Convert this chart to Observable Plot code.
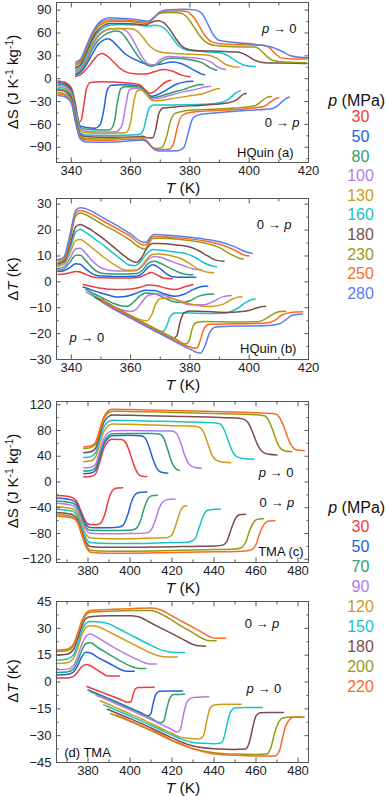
<!DOCTYPE html>
<html><head><meta charset="utf-8">
<script src="https://cdn.jsdelivr.net/npm/d3@7"></script>
<script src="https://cdn.jsdelivr.net/npm/@observablehq/plot@0.6"></script>
<style>
body{margin:0;background:#fff;font-family:"Liberation Sans",Arial,sans-serif;}
#root{position:relative;width:387px;height:796px;overflow:hidden;background:#fff}
.panel{position:absolute;left:0}
.lbl{position:absolute;white-space:nowrap;transform:translate(-50%,-50%);line-height:1;color:#111}
.rot{transform:translate(-50%,-50%) rotate(-90deg)}
sup{font-size:70%;vertical-align:0.45em;line-height:0}
</style></head>
<body><div id="root"></div>
<script>
// ---------- categories / colours ----------
const colors = ["#ef3b3b","#2062d8","#2e9e6b","#b47be6","#cf9a18","#16c3cc","#7b4c4c","#9a9914","#f96b1f","#5b7cf2"];
const hqP = [30,50,80,100,130,160,180,230,250,280];
const tmaP = [30,50,70,90,120,150,180,200,220];

// ---------- (a) HQuin ΔS, p -> 0 ----------
const hqS_p0 = [
 [[341.5,3],[343,5],[345,12],[347,22],[349,31],[350.5,33],[352,30],[354,23],[356,15],[358,9.5],[361,6.5],[365,6],[368,9],[371,12],[374,10],[377,5],[380,2.5]],
 [[341.5,5],[343,8],[345,18],[347,32],[349,45],[351,51],[352.5,52.5],[354,49],[356,41],[358,33],[361,26],[364,21],[367,18],[370,19],[374,22],[377,20],[381,12],[384,6],[385,5]],
 [[341.5,7],[343,10],[345,22],[347,38],[349,50],[351,57],[353,61],[355.5,62.5],[357,60],[359,50],[361,38],[363,27],[365,19],[367,16],[369,19],[372,26],[375,27],[380,25],[384,21],[387,14],[389,11]],
 [[341.5,9],[343,12],[345,25],[347,42],[349,55],[351,62],[353,65],[356,66],[358,64],[360,56],[362,42],[364,28],[366,19],[368,18],[370,25],[373,29],[378,28],[384,26],[387,22],[390,14],[392,12]],
 [[341.5,11],[343,14],[345,28],[347,45],[349,57],[351,63],[353,65.5],[356,66],[360,65.5],[362,63],[364,55],[366,45],[368,38],[370,35],[375,33],[380,32],[386,31],[389,27],[392,19],[395,15.5],[396.5,15]],
 [[341.5,13],[343,16],[345,31],[347,49],[349,61],[351,67],[353,70],[357,71],[362,70.5],[366,69],[368,70],[370,69],[372,64],[374,54],[376,44],[378,39],[380,37],[385,35.5],[390,34],[393,30],[396,22],[399,17],[402,16]],
 [[341.5,15],[343,18],[345,34],[347,52],[349,64],[351,70],[353,72.5],[358,72.5],[363,71],[365,70.5],[367,74],[369,76],[371,74],[373,66],[375,54],[377,44],[379,39],[382,37],[390,36],[396,35],[399,31],[402,24],[405,21],[412,20.5],[419.5,20]],
 [[341.5,18],[343,21],[345,38],[347,56],[349,68],[351,73],[353,75.5],[358,75.5],[363,73.5],[365.5,72.5],[367,77],[369,84],[371,86.5],[374,87],[377,86],[379,81],[381,70],[383,58],[385,49],[388,44],[395,42],[402,41.5],[404,37],[406,29],[408,24],[413,21.5],[419,21]],
 [[341.5,20],[343,23],[345,40],[347,58],[349,70],[351,75.5],[353,77.5],[358,77],[363,75],[366,74],[368,80],[370,87],[373,89],[377,89],[379,88],[381,82],[383,70],[385,57],[387,49],[390,46],[398,44.5],[405,44],[407,40],[409,32],[411,27],[415,26],[419.5,26]],
 [[341.5,22],[343,25],[345,42],[347,60],[349,72],[351,78],[353,80],[358,79],[363,77],[366,75.5],[368,81],[370,88],[373,90.5],[378,91],[382,90],[384,86],[386,72],[388,57],[390,50],[395,47.5],[402,45],[408,41],[411,36],[414,30],[417,28],[420,27.5]]
];
// ---------- (a) HQuin ΔS, 0 -> p ----------
const hqS_0p = [
 [[335.5,-3],[338,-5],[340,-12],[341.5,-35],[342.5,-57],[343.3,-55],[344.2,-35],[345.2,-12],[346.5,-5],[350,-4],[355,-4.5],[360,-6],[363,-8],[365,-15],[366.5,-19],[368,-17],[370,-10],[372,-4],[373.5,-2]],
 [[335.5,-5],[338,-7],[340,-15],[341.5,-40],[343,-62],[345,-64],[348,-65],[349.8,-60],[351,-40],[352,-16],[353.5,-8.5],[358,-8],[363,-10],[365,-17],[367,-23],[369,-21],[372,-15],[375,-8],[378,-4.5],[381,-3.5]],
 [[335.5,-7],[338,-9],[340,-17],[341.5,-42],[343,-64],[345,-66.5],[350,-67.5],[353,-67],[354.5,-57],[355.5,-32],[356.7,-13],[358,-10.5],[363,-11],[365,-18],[367,-25],[370,-23],[374,-18],[378,-14],[381,-10],[383,-8],[384.5,-7.5]],
 [[335.5,-9],[338,-11],[340,-19],[341.5,-45],[343,-66],[345,-69],[350,-70],[355,-69.5],[357,-62],[358.3,-37],[359.5,-15],[361,-12.5],[363,-13],[365,-19.5],[367,-27],[370,-25.5],[374,-21],[378,-17],[382,-14],[385,-11],[387,-10]],
 [[335.5,-11],[338,-13],[340,-21],[341.5,-47],[343,-68],[345,-71],[350,-72],[355,-71.5],[358.5,-70.5],[360,-57],[361,-32],[362.2,-16],[363.5,-14.5],[365.5,-20.5],[367.5,-29],[370,-28.5],[375,-25.5],[380,-22.5],[385,-19],[388,-14.5],[390,-13]],
 [[335.5,-13],[338,-15],[340,-23],[341.5,-50],[343,-71],[345,-74],[350,-74.5],[355,-74.5],[360,-74],[363,-73],[364.5,-65],[365.5,-48],[366.5,-37],[368,-34.5],[375,-34.5],[385,-33.5],[390,-31.5],[393,-27],[395.5,-18.5],[397,-16]],
 [[335.5,-15],[338,-17],[340,-25],[341.5,-52],[343,-73],[345,-76],[350,-77],[355,-77],[360,-76.5],[364,-75.5],[366,-78],[367.5,-77.5],[368.5,-66],[369.5,-46],[371,-38.5],[375,-37],[385,-34.5],[393,-31.5],[396,-27],[398,-20.5],[399,-19.5]],
 [[335.5,-18],[338,-20],[340,-28],[341.5,-55],[343,-75],[345,-78.5],[350,-79],[355,-78.5],[360,-77.5],[363,-77],[365,-80],[367,-89],[368.5,-91.5],[370.5,-90.5],[372,-78],[373.5,-55],[375,-45.5],[378,-42.5],[385,-40.5],[395,-38.5],[402,-35.5],[404,-30],[406,-24.5],[407.5,-23.5]],
 [[335.5,-20],[338,-22],[340,-30],[341.5,-57],[343,-77],[345,-80.5],[350,-81],[355,-80.5],[360,-79.5],[363.5,-79],[365.5,-82],[367.5,-91],[369,-93],[373,-92.5],[374.5,-85],[376,-60],[377.5,-48],[380,-44.5],[390,-41.5],[400,-39],[405,-36.5],[407,-31],[409,-26],[410,-25]],
 [[335.5,-22],[338,-24],[340,-32],[341.5,-59],[343,-79],[345,-83],[350,-83.5],[355,-83],[360,-81.5],[364,-80.5],[366,-84.5],[368,-93],[370,-95],[376,-94.5],[378,-90],[379.5,-70],[381,-52],[383,-47.5],[390,-44.5],[400,-41.5],[408,-39],[410,-34],[412,-27],[413.5,-24]]
];
// ---------- (b) HQuin ΔT, 0 -> p ----------
const hqT_0p = [
 [[335.5,2.8],[337.5,3],[339.5,3.5],[341.5,4],[343,3.8],[345,2.8],[347,2],[350,1.6],[355,1.5],[360,1.5],[363,1.8],[365,2.8],[367,3.6],[369,2.6],[371,1.5],[374,1.2]],
 [[335.5,4],[337.5,4.3],[339.5,5.5],[341.5,7],[343,6.8],[345,4.8],[347,3.2],[349,2.4],[355,2.1],[362,2.2],[364,3.3],[366,5.8],[367.5,6.6],[369.5,5.5],[372,3.2],[374,2],[378,1.8],[382,1.8]],
 [[335.5,4.5],[337.5,5],[339.5,7.5],[341.5,10.3],[343,10.3],[345,8],[347,5.5],[349,3.8],[351,3.2],[356,3],[362,3.2],[364,4.5],[366,7.2],[368,8],[370,7.2],[373,5.5],[376,3.8],[379,2.8],[381,2.7]],
 [[335.5,5.2],[337.5,5.8],[339.5,9],[341.5,12.8],[343,13],[345,10.8],[347,8.2],[349,6.2],[351,5],[353,4.4],[358,4.2],[362,4.4],[364,6],[366,8.8],[368,9.8],[370,9.5],[374,7.8],[378,6.2],[381,5],[384,4.6]],
 [[335.5,6],[337.5,6.8],[339.5,11],[341.5,16],[343,16.4],[345,15],[348,12.2],[351,9.5],[354,7],[357,5],[359,4.5],[362,4.6],[364,6.5],[366,9.6],[368,10.8],[370,10.8],[374,10],[377,9],[380,7],[383,4.8],[386,3.7],[388,3.5]],
 [[335.5,6.5],[337.5,7.5],[339.5,12.5],[341.5,19.3],[343,20.2],[345,19],[348,16.5],[351,14],[354,11.2],[357,8.5],[359.5,6.5],[361.5,6.3],[363.5,8],[365.5,11],[367.5,12.5],[370,12.3],[375,11.5],[379,10.8],[382,9.3],[385,7.2],[388,6],[389,5.8]],
 [[335.5,7],[337.5,8],[339.5,14],[341.5,21.3],[343,22.2],[345,21.2],[348,19],[351,16.5],[354,13.7],[357,10.8],[360,8.3],[362,7.5],[363.5,9],[365.5,13],[367.5,14.8],[370,14.8],[375,14.3],[380,13.5],[383,12],[386,10],[389,8.3],[391.5,8]],
 [[335.5,7.5],[337.5,8.5],[339.5,16],[341.5,25.5],[343,26.6],[345,25.8],[350,22.5],[355,19.5],[360,16],[363,13.3],[364.8,12.6],[366,14.5],[367.5,16.7],[370,16.8],[375,16.6],[380,16],[385,15],[390,13.2],[394,10.5],[397,9],[398,8.8]],
 [[335.5,8.2],[337.5,9],[339.5,17],[341.5,26.6],[343,27.6],[345,27],[350,24],[355,20.8],[360,17.5],[363.5,14.5],[365,14.2],[366.2,15.8],[367.5,17.5],[370,17.4],[375,17.1],[380,16.6],[385,15.8],[390,14.5],[395,12.3],[398,10.5],[400,10]],
 [[335.5,8.6],[337.5,9.6],[339.5,18],[341.5,27.6],[343,28.6],[345,28.2],[350,25.2],[355,22],[360,18.5],[364,15.4],[365.3,15.3],[366.5,17],[367.8,18.3],[370,18.2],[375,17.8],[380,17.2],[385,16.5],[390,15.5],[395,13.6],[399,11.5],[401,11]]
];
// ---------- (b) HQuin ΔT, p -> 0 ----------
const hqT_p0 = [
 [[344,-1],[347,-1.8],[350,-2.5],[355,-3],[360,-2.8],[363,-2.2],[366,-1.2],[369,-1.5],[372,-2.5],[375,-3],[378,-2],[381,-1]],
 [[344,-2],[347,-3.2],[350,-4.3],[353,-5.3],[356,-5.9],[359,-5.5],[362,-4.3],[365,-3.2],[368,-3.3],[371,-4.5],[375,-5.6],[378,-4.8],[381,-3],[384,-1.8],[386,-1.6]],
 [[345,-3],[348,-4.8],[351,-6.5],[354,-8.2],[357,-9.3],[359,-9.4],[361,-7.8],[363,-5.5],[365,-4.3],[368,-4.5],[371,-6],[374,-7.5],[377,-8],[380,-7.3],[383,-5.5],[386,-4.8],[388,-4.7]],
 [[345,-4],[348,-5.8],[351,-7.6],[354,-9.3],[357,-10.8],[360,-11.5],[362,-10.5],[364,-7.5],[366,-5.2],[369,-4.6],[372,-5.5],[376,-7.3],[380,-8.8],[385,-8.8],[388,-7.5],[391,-5.8],[394,-5.3]],
 [[346,-4.5],[349,-6.3],[352,-8.3],[356,-10.8],[360,-13],[363,-14.5],[365.5,-15],[367,-13],[368.5,-8.5],[370,-6.4],[373,-6.2],[377,-7.5],[382,-9],[387,-9.5],[391,-8.7],[394,-6.8],[396,-6],[397.5,-5.8]],
 [[347,-5],[350,-7],[355,-10.3],[360,-13.4],[365,-16.4],[369,-18.8],[370.8,-19.2],[372,-17.5],[373.3,-13.5],[375,-12],[380,-12],[386,-12.2],[392,-12],[396,-10.3],[399,-7.8],[401,-6.8],[402,-6.6]],
 [[348,-6],[350,-7.3],[355,-10.6],[360,-13.7],[365,-16.7],[370,-19.7],[374,-21.8],[375.5,-21],[376.8,-15],[378,-12],[380,-11.3],[386,-11.5],[393,-11.8],[399,-11.3],[402,-10.3],[404,-9.6],[405.5,-9.4]],
 [[350,-6.5],[355,-10],[360,-13.1],[365,-16.1],[370,-19.1],[375,-22],[378.5,-24],[379.8,-22.5],[380.8,-18],[382,-15.8],[385,-15.3],[395,-15.5],[403,-15.4],[406,-14],[408.5,-12.2],[410.5,-11.5],[412.3,-11.4]],
 [[350,-7],[355,-10.4],[360,-13.5],[365,-16.6],[370,-19.6],[375,-22.6],[380,-25.2],[382.3,-25.7],[383.5,-22.5],[384.8,-18],[386.5,-16.4],[395,-16.2],[405,-16],[408.5,-15],[411,-12.8],[414,-11.8],[418,-11.6]],
 [[350,-7.5],[355,-11],[360,-14],[365,-17.1],[370,-20.1],[375,-23.1],[380,-26],[383.5,-27.6],[385,-25],[386.5,-20],[388.5,-17.5],[395,-17.1],[405,-17],[410,-16.3],[412.5,-14.5],[414.5,-12.9],[418,-12.4]]
];
// ---------- (c) TMA ΔS, p -> 0 ----------
const tmaS_p0 = [
 [[378,8],[381,8.5],[383.5,12],[385.5,30],[387.5,52],[389.5,63],[391.5,66.5],[396,66],[398,61],[400,45],[402,25],[404,12],[406,9],[408,8.5]],
 [[378,13],[381,13.5],[383.5,18],[385.5,37],[387.5,58],[389.5,68],[391.5,72],[400,72.5],[405,72],[407,69],[409,55],[411,35],[413,20],[415,15],[418,13.5]],
 [[378,17],[381,17.5],[383.5,22],[385.5,41],[387.5,62],[389.5,71],[391.5,75],[400,75.5],[410,75.5],[414,74.5],[416,68],[418,50],[420,30],[422,20],[423.5,18]],
 [[378,22],[381,22.5],[383.5,27],[385.5,47],[387.5,67],[389.5,76],[391.5,79.5],[400,80],[410,79.5],[420,79],[422,76],[424,62],[426,42],[428,28],[431,22.5],[434,21.5]],
 [[378,31.5],[381,32.5],[383.5,38],[385.5,58],[387.5,78],[389.5,87],[391.5,90],[400,89.5],[410,88.5],[420,87.5],[430,86.5],[433,85],[435,78],[437,60],[439,42],[441,34],[444,31],[448,30]],
 [[378,38],[381,39],[383.5,45],[385.5,65],[387.5,85],[389.5,93],[391.5,96],[400,95.5],[410,94.5],[420,94],[430,93],[440,92],[443,90],[445,80],[447,62],[449,46],[451,39],[455,36],[459,35.5]],
 [[378,45.5],[381,46.5],[383.5,52],[385.5,72],[387.5,92],[389.5,101],[391.5,104],[400,103.5],[420,102],[440,100.5],[452,99],[455,96],[457,88],[459,72],[461,56],[463,47],[466,43],[470,42]],
 [[378,52],[381,53],[383.5,58],[385.5,78],[387.5,98],[389.5,107],[391.5,110],[400,109.5],[420,108],[440,106.5],[460,104.5],[464,103],[466,96],[468,80],[470,62],[472,51],[474,48],[477,47]],
 [[378,54.5],[381,55.5],[383.5,61],[385.5,81],[387.5,101],[389.5,110],[391.5,113],[400,112.5],[420,111],[440,109.5],[460,107.5],[469,106],[471,101],[473,88],[475,70],[477,56],[479,50],[483,48.5]]
];
// ---------- (c) TMA ΔS, 0 -> p ----------
const tmaS_0p = [
 [[365,-21],[370,-22],[373,-25],[375,-32],[377,-48],[379,-62],[381,-66],[384,-66.5],[386,-64],[388,-50],[390,-25],[392,-12],[394,-9.5],[396.5,-9]],
 [[365,-25],[370,-26.5],[373,-29],[375,-36],[377,-52],[379,-66],[381,-70.5],[385,-71],[390,-71],[395,-70],[397,-66],[399,-50],[401,-28],[403,-18],[405,-16],[408,-15.5]],
 [[365,-29.5],[370,-31],[373,-33],[375,-40],[377,-56],[379,-70],[381,-75],[390,-75.5],[400,-75],[403,-72],[405,-60],[407,-38],[409,-24],[411,-21],[413,-20.5]],
 [[365,-33],[370,-34.5],[373,-37],[375,-44],[377,-60],[379,-74],[381,-79.5],[390,-80.5],[400,-80],[408,-79],[410,-75],[412,-60],[414,-40],[416,-30],[418,-27],[421.5,-26.5]],
 [[365,-38.5],[370,-40],[373,-42],[375,-49],[377,-66],[379,-81],[381,-87],[390,-88],[400,-88],[410,-87],[418,-86],[420,-82],[422,-65],[424,-45],[425.5,-38],[427,-37]],
 [[365,-42.5],[370,-44],[373,-46],[375,-53],[377,-71],[379,-87],[381,-94],[390,-95.5],[400,-95.5],[410,-95],[420,-94],[428,-93],[431,-88],[433,-70],[435,-52],[437,-44],[440,-42.5],[443,-42]],
 [[365,-47.5],[370,-49],[373,-51],[375,-58],[377,-77],[379,-93],[381,-100],[390,-101.5],[400,-101.5],[410,-101],[420,-100.5],[430,-100],[440,-99.5],[444,-98],[446,-93],[448,-75],[450,-58],[452,-51],[455,-50]],
 [[365,-50.5],[370,-52],[373,-54],[375,-61],[377,-80],[379,-97],[381,-106],[390,-107.5],[400,-107.5],[420,-106.5],[440,-105],[450,-104],[453,-102],[455,-94],[457,-75],[459,-62],[461,-57.5],[463.5,-57]],
 [[365,-53],[370,-54.5],[373,-56.5],[375,-63],[377,-82],[379,-100],[381,-109],[390,-110.5],[400,-110.5],[420,-109.5],[440,-108.5],[455,-107],[458,-105],[460,-97],[462,-78],[464,-65],[466,-60.5],[469,-60]]
];
// ---------- (d) TMA ΔT, 0 -> p ----------
const tmaT_0p = [
 [[365,2.2],[370,2.3],[373,3],[375,5.5],[377,8.5],[379,9.8],[381,9.2],[384,7],[387,4.8],[389,3.5],[392,3.3],[395,3.3]],
 [[365,3.9],[370,4.2],[373,5.5],[375,9],[377,14],[379,16.6],[381,16.3],[385,13.5],[390,10.5],[395,7.3],[397.5,6.2],[400,6],[402,6]],
 [[365,5.3],[370,5.6],[373,7.2],[375,11.5],[377,17.5],[379,21.5],[381,22],[385,19],[390,15.5],[395,12],[400,9],[403,7.8],[405,7.5],[407.5,7.5]],
 [[365,6.8],[370,7.2],[373,9],[375,14],[377,21],[379,25.5],[381,26.8],[385,24.5],[390,21],[395,17.5],[400,14.5],[405,11.8],[408,10.3],[410,10],[412.5,10]],
 [[365,10.3],[370,10.8],[373,13],[375,18.5],[377,26],[379,30.5],[381,31.5],[384,31.2],[390,28],[395,25],[400,22],[405,19],[410,16.2],[414,14.5],[418,14],[422.5,14]],
 [[365,12.2],[370,12.7],[373,15],[375,21],[377,28.5],[379,32.8],[381,33.8],[386,33.5],[390,32.5],[395,29.5],[400,26.5],[405,23.5],[410,20.5],[415,17.8],[419,16.8],[423,16.5],[426,16.5]],
 [[365,15],[370,15.5],[373,18],[375,24],[377,31],[379,35.5],[381,36.5],[390,37],[400,37],[404,36.5],[410,33],[415,30],[420,27],[425,24],[430,21],[433,20.2],[436,20]],
 [[365,17],[370,17.5],[373,20],[375,26],[377,33],[379,37.5],[381,39],[390,39.5],[400,40],[410,40],[413,39],[418,36],[424,31.5],[430,27.5],[435,24],[437,23.2],[441,23]],
 [[365,17.8],[370,18.3],[373,21],[375,27],[377,34],[379,38.5],[381,40],[390,40.5],[400,41],[410,41.3],[414,40.5],[420,37],[425,33.8],[430,30.5],[435,27.3],[439,24.8],[441,24.5],[445.5,24.5]]
];
// ---------- (d) TMA ΔT, p -> 0 ----------
const tmaT_p0 = [
 [[379.5,-2.5],[385,-5],[390,-7.3],[395,-9.5],[399,-11.3],[400.5,-11],[401.5,-7],[402.5,-3.8],[404,-3.1],[411.5,-3]],
 [[380,-4.4],[385,-6.8],[390,-9.3],[395,-11.8],[400,-14.5],[405,-17],[408.5,-19],[410,-17.5],[411,-12],[412.3,-7],[414,-5.2],[420,-5],[425,-5]],
 [[381,-5.3],[385,-7.2],[390,-9.7],[395,-12.2],[400,-14.8],[405,-17.5],[410,-20.2],[414.5,-22.8],[416,-22],[417.5,-15],[419,-9],[421,-7],[426,-6.8]],
 [[383.8,-7.4],[390,-10.4],[395,-13],[400,-15.6],[405,-18.3],[410,-21],[415,-23.8],[420,-26.5],[422.5,-28],[424,-26.5],[425.5,-18],[427,-11.5],[429,-9],[432,-8.5],[437.5,-8.3]],
 [[385.8,-10.5],[390,-12.6],[395,-15.2],[400,-17.8],[405,-20.4],[410,-23.2],[415,-26],[420,-28.8],[424,-30.8],[428,-31.5],[433,-31.8],[435,-30],[436.5,-22],[438,-15],[440,-12.8],[445,-12.4],[453,-12.4]],
 [[387.5,-12.8],[390,-14],[395,-16.5],[400,-19],[405,-21.6],[410,-24.3],[415,-27],[420,-29.7],[425,-32.2],[430,-33.8],[435,-34.3],[440,-34.5],[443.5,-34],[445,-30],[446.5,-22],[448,-16.5],[450,-14.6],[455,-14.3],[463,-14.2]],
 [[389.2,-15.2],[395,-18],[400,-20.5],[405,-23],[410,-25.7],[415,-28.5],[420,-31.2],[425,-33.8],[430,-35.8],[440,-37.3],[450,-37.7],[455,-37.5],[457,-33],[458.5,-25],[460,-19],[462,-17.2],[466,-17],[473,-17]],
 [[390.8,-17.6],[395,-19.6],[400,-22],[405,-24.5],[410,-27.2],[415,-30],[420,-32.7],[425,-35.2],[430,-37.3],[440,-39.5],[450,-40.3],[460,-40.5],[465,-40.3],[467,-37],[469,-28],[471,-22],[473,-20],[477,-19.5],[482,-19.5]],
 [[393.3,-18.4],[395,-19.2],[400,-21.6],[405,-24.2],[410,-26.8],[415,-29.6],[420,-32.5],[425,-35],[430,-37.3],[435,-39],[440,-40.2],[450,-41],[460,-41.3],[469,-41.3],[471,-39],[472.5,-32],[474,-25],[476,-21],[478,-19.7],[483,-19.5]]
];

// ---------- tick values ----------
const hqXTicks = [340,360,380,400,420];
const hqXMinor = [350,370,390,410];
const tmaXTicks = [380,400,420,440,460,480];
const tmaXMinor = [370,390,410,430,450,470];
const aYTicks = [-90,-60,-30,0,30,60,90];
const aYMinor = [-105,-75,-45,-15,15,45,75];
const bYTicks = [-30,-20,-10,0,10,20,30];
const bYMinor = [-25,-15,-5,5,15,25];
const cYTicks = [-120,-80,-40,0,40,80,120];
const cYMinor = [-100,-60,-20,20,60,100];
const dYTicks = [-45,-30,-15,0,15,30,45];
const dYMinor = [-37.5,-22.5,-7.5,7.5,22.5,37.5];

// ---------- labels ----------
const pTo0 = "<i>p</i> \u2192 0", zeroToP = "0 \u2192 <i>p</i>";
const notesA = [[410.3,65.9,pTo0],[411.3,-57.3,zeroToP],[405.6,-96.6,"HQuin (a)"]];
const notesB = [[408.6,22.2,zeroToP],[345.4,-21.2,pTo0],[406.6,-25.8,"HQuin (b)"]];
const notesC = [[469.8,14.3,pTo0],[470.2,-32.3,zeroToP],[472.1,-108.4,"TMA (c)"]];
const notesD = [[463.1,32.5,zeroToP],[464,-3.8,pTo0],[380,-39.6,"(d) TMA"]];
const yTitleS = "\u0394S (J K<sup>-1</sup> kg<sup>-1</sup>)";
const yTitleT = "\u0394<i>T</i> (K)";
const xTitle = "<i>T</i> (K)";

const root = document.getElementById("root");
function addLabel(x, y, html, size, cls) {
  const d = document.createElement("div");
  d.className = "lbl" + (cls ? " " + cls : "");
  d.style.left = x + "px"; d.style.top = y + "px"; d.style.fontSize = size + "px";
  d.innerHTML = html;
  root.appendChild(d);
}

function panel(cfg) {
  const {top, innerH, xDomain, yDomain, xTicks, xMinor, yTicks, yMinor, up, down, pressures, notes, yTitle} = cfg;
  const rows = [];
  [["u", up], ["d", down]].forEach(([b, list]) => list.forEach((pts, i) =>
    pts.forEach(([T, v]) => rows.push({T, v, p: pressures[i], key: b + pressures[i]}))));
  const mT = 2, mB = 30, mL = 56, W = 320;
  const tk = {label: null, tickFormat: () => "", stroke: "#555"};
  const plot = Plot.plot({
    width: W, height: mT + innerH + mB,
    marginLeft: mL, marginRight: W - 308, marginTop: mT, marginBottom: mB,
    x: {domain: xDomain}, y: {domain: yDomain},
    color: {type: "ordinal", domain: pressures, range: colors.slice(0, pressures.length)},
    style: {fontFamily: "Liberation Sans, Arial, sans-serif", fontSize: "13px", color: "#222", background: "transparent", overflow: "visible"},
    marks: [
      Plot.line(rows, {x: "T", y: "v", z: "key", stroke: "p", strokeWidth: 1.5, curve: "monotone-x"}),
      Plot.frame({stroke: "#555", strokeWidth: 1}),
      Plot.axisX(xTicks, {tickSize: 0, tickPadding: 3, label: null}),
      Plot.axisY(yTicks, {tickSize: 0, tickPadding: 5, label: null}),
      Plot.axisX(xTicks, {...tk, tickSize: -4.5}),
      Plot.axisX(xTicks, {...tk, anchor: "top", tickSize: -4.5}),
      Plot.axisX(xMinor, {...tk, tickSize: -2.5}),
      Plot.axisX(xMinor, {...tk, anchor: "top", tickSize: -2.5}),
      Plot.axisY(yTicks, {...tk, tickSize: -4.5}),
      Plot.axisY(yTicks, {...tk, anchor: "right", tickSize: -4.5}),
      Plot.axisY(yMinor, {...tk, tickSize: -2.5}),
      Plot.axisY(yMinor, {...tk, anchor: "right", tickSize: -2.5})
    ]
  });
  plot.classList.add("panel");
  plot.style.top = top + "px";
  root.appendChild(plot);
  const sx = plot.scale("x"), sy = plot.scale("y");
  notes.forEach(([T, v, html]) => addLabel(sx.apply(T), top + sy.apply(v), html, 13));
  addLabel((mL + 308) / 2 + 1, top + mT + innerH + 26, xTitle, 15.5);
  addLabel(12, top + mT + innerH / 2, yTitle, 15, "rot");
}

panel({top: 0, innerH: 160, xDomain: [335, 420], yDomain: [-110, 100], xTicks: hqXTicks, xMinor: hqXMinor,
  yTicks: aYTicks, yMinor: aYMinor, up: hqS_p0, down: hqS_0p, pressures: hqP, notes: notesA, yTitle: yTitleS});
panel({top: 196.3, innerH: 161, xDomain: [335, 420], yDomain: [-30, 32.2], xTicks: hqXTicks, xMinor: hqXMinor,
  yTicks: bYTicks, yMinor: bYMinor, up: hqT_0p, down: hqT_p0, pressures: hqP, notes: notesB, yTitle: yTitleT});
panel({top: 398.7, innerH: 161, xDomain: [365, 485], yDomain: [-125, 125], xTicks: tmaXTicks, xMinor: tmaXMinor,
  yTicks: cYTicks, yMinor: cYMinor, up: tmaS_p0, down: tmaS_0p, pressures: tmaP, notes: notesC, yTitle: yTitleS});
panel({top: 598.7, innerH: 161, xDomain: [365, 485], yDomain: [-45, 45], xTicks: tmaXTicks, xMinor: tmaXMinor,
  yTicks: dYTicks, yMinor: dYMinor, up: tmaT_0p, down: tmaT_p0, pressures: tmaP, notes: notesD, yTitle: yTitleT});

// ---------- legends ----------
function legend(titleY, firstY, step, pressures) {
  addLabel(356.7, titleY, "<i>p</i> (MPa)", 16);
  pressures.forEach((p, i) => {
    const d = document.createElement("div");
    d.className = "lbl"; d.style.left = "360.5px"; d.style.top = (firstY + i * step) + "px";
    d.style.fontSize = "16px"; d.style.color = colors[i]; d.textContent = p;
    root.appendChild(d);
  });
}
legend(101, 117.3, 19.63, hqP);
legend(508.3, 526.7, 20, tmaP);
</script>
</body></html>
